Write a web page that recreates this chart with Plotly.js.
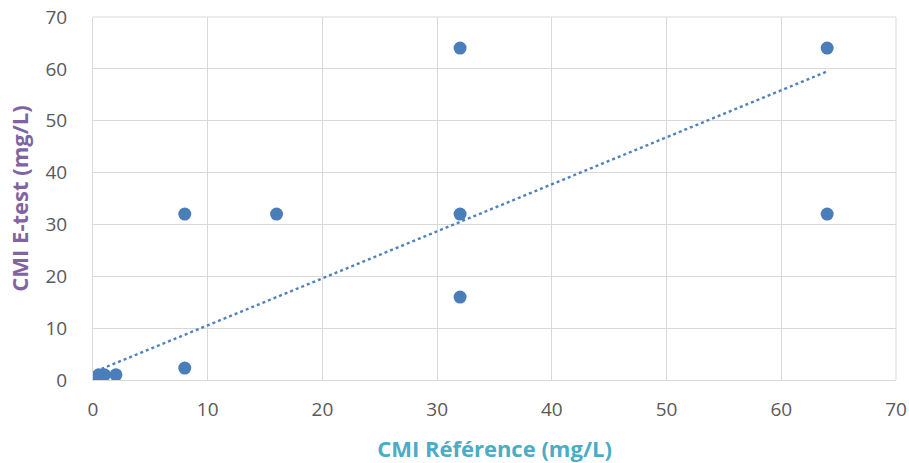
<!DOCTYPE html>
<html>
<head>
<meta charset="utf-8">
<script src="https://cdn.plot.ly/plotly-3.0.1.min.js"></script>
<style>html,body{margin:0;padding:0;background:#fff;}#chart{width:909px;height:463px;}</style>
</head>
<body>
<div id="chart"></div>
<script>
const refX = [0.25, 0.5, 1, 2, 8, 8, 16, 32, 32, 32, 64, 64];
const etestY = [0.5, 1, 1, 1, 2.3, 32, 32, 64, 32, 16, 64, 32];
const trendX = [0.25, 64];
const trendY = [1.7, 59.5];
const xTitle = 'CMI Référence (mg/L)';
const yTitle = 'CMI E-test (mg/L)';

const data = [
  {x: trendX, y: trendY, type: 'scatter', mode: 'lines',
   line: {color: '#4f81bd', width: 2.4, dash: 'dot'}, hoverinfo: 'skip'},
  {x: refX, y: etestY, type: 'scatter', mode: 'markers',
   marker: {color: '#4a7ebb', size: 13}}
];
const layout = {
  width: 909, height: 463,
  margin: {l: 93, r: 13, t: 17, b: 83},
  showlegend: false,
  paper_bgcolor: '#fff', plot_bgcolor: '#fff',
  font: {family: 'Open Sans, sans-serif', color: '#595959', size: 19},
  xaxis: {range: [0, 70], dtick: 10, showgrid: true, gridcolor: '#d9d9d9', gridwidth: 1,
    zeroline: false, showline: true, linecolor: '#d9d9d9', linewidth: 1,
    ticks: '', ticklabelstandoff: 12, tickfont: {size: 19, color: '#595959'},
    title: {text: xTitle, font: {size: 22, color: '#4bacc6', family: 'Open Sans, sans-serif', weight: 'bold'}, standoff: 22}},
  yaxis: {range: [0, 70], dtick: 10, showgrid: true, gridcolor: '#d9d9d9', gridwidth: 1,
    zeroline: false, showline: true, linecolor: '#d9d9d9', linewidth: 1,
    ticks: '', ticklabelstandoff: 21, tickfont: {size: 19, color: '#595959'},
    title: {text: yTitle, font: {size: 22, color: '#8064a2', family: 'Open Sans, sans-serif', weight: 'bold'}, standoff: 10}},
  shapes: [{type: 'line', xref: 'paper', yref: 'paper', x0: 1, x1: 1, y0: 0, y1: 1, line: {color: '#d9d9d9', width: 1}},
           {type: 'line', xref: 'paper', yref: 'paper', x0: 0, x1: 1, y0: 1, y1: 1, line: {color: '#d9d9d9', width: 1}}]
};
Plotly.newPlot('chart', data, layout, {displayModeBar: false, staticPlot: true});
</script>
</body>
</html>
